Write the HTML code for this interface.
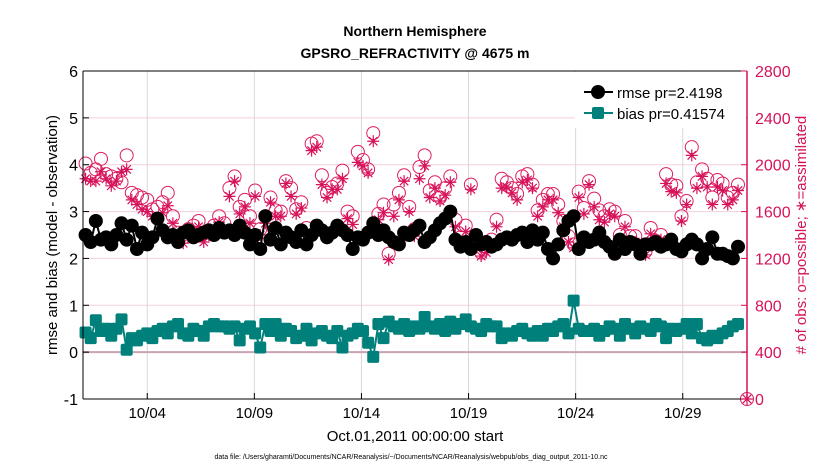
<!DOCTYPE html>
<html><head><meta charset="utf-8"><style>
body{margin:0;background:#fff;}
svg{display:block;font-family:"Liberation Sans",Arial,sans-serif;}
</style></head><body>
<svg id="chart" width="830" height="470" viewBox="0 0 830 470" xmlns="http://www.w3.org/2000/svg">
<rect width="830" height="470" fill="#fff"/>
<text x="415" y="36" text-anchor="middle" font-size="14" font-weight="bold">Northern Hemisphere</text>
<text x="415" y="58" text-anchor="middle" font-size="14" font-weight="bold">GPSRO_REFRACTIVITY @ 4675 m</text>
<g id="grid"></g><g id="marks"></g><g id="axes"></g>
<text x="415" y="441" text-anchor="middle" font-size="15">Oct.01,2011 00:00:00 start</text>
<text x="411" y="459" text-anchor="middle" font-size="7">data file: /Users/gharamti/Documents/NCAR/Reanalysis/~/Documents/NCAR/Reanalysis/webpub/obs_diag_output_2011-10.nc</text>
<text transform="translate(57,235) rotate(-90)" text-anchor="middle" font-size="15">rmse and bias (model - observation)</text>
<text transform="translate(806,235) rotate(-90)" text-anchor="middle" font-size="15" fill="#d6125a"># of obs: o=possible; ∗=assimilated</text>
<g id="legend"></g>
</svg>
<script>
const rmse=[2.5,2.35,2.8,2.4,2.45,2.3,2.5,2.75, 2.4,2.7,2.2,2.55,2.3,2.45,2.85,2.6, 2.45,2.5,2.35,2.55,2.6,2.45,2.5,2.55, 2.6,2.5,2.65,2.55,2.6,2.5,2.7,2.55, 2.3,2.5,2.2,2.9,2.4,2.65,2.3,2.55, 2.45,2.35,2.6,2.3,2.5,2.7,2.6,2.45, 2.55,2.7,2.6,2.5,2.2,2.45,2.4,2.55, 2.75,2.5,2.6,2.45,2.35,2.3,2.55,2.5, 2.6,2.7,2.35,2.45,2.6,2.75,2.85,3.0, 2.4,2.25,2.35,2.2,2.5,2.3,2.35,2.25, 2.3,2.4,2.45,2.4,2.5,2.55,2.35,2.6, 2.4,2.55,2.2,2.0,2.3,2.6,2.8,2.9, 2.2,2.45,2.35,2.4,2.55,2.35,2.25,2.1, 2.4,2.2,2.35,2.3,2.1,2.3,2.3,2.35, 2.25,2.3,2.4,2.2,2.15,2.3,2.4,2.3, 2.0,2.2,2.45,2.1,2.1,2.05,2.0,2.25];
const bias=[0.42,0.3,0.68,0.45,0.5,0.35,0.5,0.7, 0.05,0.3,0.25,0.35,0.4,0.3,0.45,0.5, 0.4,0.55,0.6,0.4,0.35,0.5,0.45,0.35, 0.55,0.6,0.55,0.55,0.5,0.55,0.25,0.5, 0.55,0.4,0.1,0.6,0.45,0.6,0.35,0.5, 0.45,0.3,0.35,0.5,0.25,0.4,0.45,0.35, 0.3,0.45,0.1,0.35,0.4,0.5,0.45,0.2, -0.1,0.6,0.3,0.65,0.55,0.5,0.6,0.45, 0.55,0.5,0.75,0.55,0.5,0.6,0.45,0.65, 0.5,0.6,0.7,0.55,0.5,0.45,0.6,0.55, 0.55,0.3,0.4,0.35,0.45,0.5,0.4,0.35, 0.45,0.35,0.5,0.45,0.55,0.6,0.4,1.1, 0.5,0.45,0.45,0.5,0.35,0.45,0.55,0.5, 0.35,0.6,0.5,0.4,0.55,0.5,0.45,0.6, 0.55,0.3,0.5,0.45,0.5,0.6,0.4,0.6, 0.3,0.25,0.35,0.3,0.4,0.45,0.55,0.6];
const possible=[2010,1930,1960,2050,1920,1900,1880,1850, 2080,1760,1740,1720,1700,1620,1640,1680, 1760,1560,1420,1380,1450,1480,1520,1410, 1440,1480,1560,1500,1800,1900,1640,1700, 1560,1780,1450,1560,1720,1610,1600,1860, 1800,1620,1680,1460,2180,2200,1910,1760, 1810,1840,1950,1600,1560,2110,2040,1960, 2270,1580,1660,1240,1660,1760,1910,1640, 1450,1980,2080,1780,1850,1720,1800,1900, 1530,1380,1480,1830,1340,1250,1300,1360, 1530,1880,1850,1800,1750,1900,1920,1830, 1610,1700,1750,1750,1660,1520,1390,1320, 1770,1630,1860,1710,1610,1560,1620,1600, 1400,1520,1390,1390,1300,1260,1460,1350, 1400,1920,1830,1820,1560,1690,2150,1850, 1960,1880,1720,1870,1840,1720,1760,1830, 0];
const assimilated=[1880,1860,1860,1940,1880,1820,1860,1940, 1960,1700,1660,1620,1600,1560,1540,1590, 1650,1500,1380,1330,1410,1440,1470,1340, 1400,1440,1510,1440,1730,1860,1580,1640, 1500,1730,1400,1500,1680,1560,1560,1840, 1730,1580,1630,1420,2120,2150,1830,1720, 1790,1790,1880,1540,1490,2020,1990,1930, 2200,1530,1590,1190,1560,1700,1860,1600, 1390,1880,1990,1720,1800,1690,1740,1850, 1470,1330,1430,1790,1290,1220,1250,1320, 1470,1800,1810,1760,1700,1850,1870,1800, 1560,1640,1700,1700,1590,1470,1340,1290, 1720,1580,1830,1640,1530,1510,1580,1560, 1360,1470,1330,1340,1250,1230,1410,1310, 1360,1840,1770,1760,1520,1660,2080,1800, 1900,1810,1660,1810,1780,1660,1700,1780, 0];
const xTickLabels=['10/04','10/09','10/14','10/19','10/24','10/29'];
const xTickDays=[3,8,13,18,23,28];
const yTicks=[-1,0,1,2,3,4,5,6];
const rTicks=[0,400,800,1200,1600,2000,2400,2800];
const L=83,R=747,T=71,B=399,SPAN=31;
const NS='http://www.w3.org/2000/svg';
const xs=d=>L+d*(R-L)/SPAN;
const ys=v=>B-(v+1)*(B-T)/7;
const yr=n=>B-n*(B-T)/2800;
const N=rmse.length;
const tIdx=i=>i<N?(i+0.5)*(SPAN-0.3)/N:SPAN;
function mk(tag,attrs,parent){const e=document.createElementNS(NS,tag);for(const k in attrs)e.setAttribute(k,attrs[k]);parent.appendChild(e);return e;}
const grid=document.getElementById('grid'),marks=document.getElementById('marks'),axes=document.getElementById('axes'),legend=document.getElementById('legend');
yTicks.forEach(v=>{const g=mk('line',{x1:L,x2:R,y1:ys(v),y2:ys(v),stroke:'#f3cfe0','stroke-width':1},grid);

});
xTickDays.forEach(d=>{const g=mk('line',{x1:xs(d),x2:xs(d),y1:T,y2:B,stroke:'#d8d8d8','stroke-width':1},grid);

});
const z=mk('line',{x1:L,x2:R,y1:ys(0),y2:ys(0),stroke:'#c9a3b4','stroke-width':2},grid);


possible.forEach((n,i)=>{const x=xs(tIdx(i));
const c=mk('circle',{cx:x,cy:yr(n),r:6.5,fill:'none',stroke:'#de1f63','stroke-width':1},marks);

});
assimilated.forEach((n,i)=>{const x=xs(tIdx(i)),y=yr(n),s=6;
const p=mk('path',{d:`M${x-s} ${y}H${x+s}M${x} ${y-s}V${y+s}M${x-4.2} ${y-4.2}L${x+4.2} ${y+4.2}M${x-4.2} ${y+4.2}L${x+4.2} ${y-4.2}`,stroke:'#d6125a','stroke-width':1.2,fill:'none'},marks);

});
const rl=mk('polyline',{points:rmse.map((v,i)=>xs(tIdx(i))+','+ys(v)).join(' '),fill:'none',stroke:'#000','stroke-width':2},marks);


rmse.forEach((v,i)=>{const c=mk('circle',{cx:xs(tIdx(i)),cy:ys(v),r:7,fill:'#000'},marks);

});
const bl=mk('polyline',{points:bias.map((v,i)=>xs(tIdx(i))+','+ys(v)).join(' '),fill:'none',stroke:'#00807a','stroke-width':2},marks);


bias.forEach((v,i)=>{const r=mk('rect',{x:xs(tIdx(i))-6,y:ys(v)-6,width:12,height:12,rx:2,fill:'#00807a'},marks);

});
mk('line',{x1:L,x2:R,y1:T,y2:T,stroke:'#000'},axes);
mk('line',{x1:L,x2:R,y1:B,y2:B,stroke:'#000'},axes);
mk('line',{x1:L,x2:L,y1:T,y2:B,stroke:'#000'},axes);
mk('line',{x1:R,x2:R,y1:T,y2:B,stroke:'#d6125a','stroke-width':1.5},axes);
yTicks.forEach(v=>{mk('line',{x1:L,x2:L+6,y1:ys(v),y2:ys(v),stroke:'#000'},axes);
const t=mk('text',{x:L-5,y:ys(v)+6,'text-anchor':'end','font-size':16},axes);t.textContent=v;

});
rTicks.forEach(n=>{mk('line',{x1:R-6,x2:R,y1:yr(n),y2:yr(n),stroke:'#d6125a'},axes);
const t=mk('text',{x:R+8,y:yr(n)+6,'font-size':16,fill:'#d6125a'},axes);t.textContent=n;

});
xTickDays.forEach((d,i)=>{mk('line',{x1:xs(d),x2:xs(d),y1:B,y2:B-6,stroke:'#000'},axes);
const t=mk('text',{x:xs(d),y:B+19,'text-anchor':'middle','font-size':15},axes);t.textContent=xTickLabels[i];

});
const lb=mk('rect',{x:575,y:72,width:171,height:56,fill:'#fff'},legend);


mk('line',{x1:584,x2:613,y1:92,y2:92,stroke:'#000','stroke-width':2},legend);
mk('circle',{cx:598,cy:92,r:7,fill:'#000'},legend);
const t1=mk('text',{x:617,y:98,'font-size':15},legend);t1.textContent='rmse pr=2.4198';


mk('line',{x1:584,x2:613,y1:113,y2:113,stroke:'#00807a','stroke-width':2},legend);
mk('rect',{x:592,y:107,width:12,height:12,rx:2,fill:'#00807a'},legend);
const t2=mk('text',{x:617,y:119,'font-size':15},legend);t2.textContent='bias pr=0.41574';


</script>
</body></html>
